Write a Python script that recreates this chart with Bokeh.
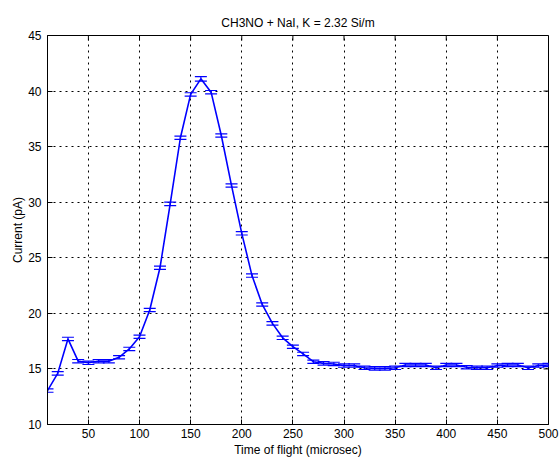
import math
from bokeh.plotting import figure
from bokeh.models import ColumnDataSource, Whisker, TeeHead, FixedTicker, Range1d, Title
from bokeh.embed import file_html
from bokeh.resources import INLINE

time_us = [10, 20, 30, 40, 50, 60, 70, 80, 90, 100,
           110, 120, 130, 140, 150, 160, 170, 180, 190, 200,
           210, 220, 230, 240, 250, 260, 270, 280, 290, 300,
           310, 320, 330, 340, 350, 360, 370, 380, 390, 400,
           410, 420, 430, 440, 450, 460, 470, 480, 490, 500]
current_pa = [13.05, 14.6, 17.7, 15.7, 15.55, 15.7, 15.7, 16.05, 16.8, 17.9,
              20.3, 24.1, 29.85, 35.8, 39.7, 41.1, 39.9, 36.0, 31.5, 27.2,
              23.4, 20.8, 19.1, 17.8, 17.0, 16.35, 15.65, 15.5, 15.45, 15.3,
              15.3, 15.1, 15.05, 15.05, 15.1, 15.35, 15.35, 15.35, 15.1, 15.35,
              15.35, 15.15, 15.1, 15.1, 15.3, 15.35, 15.35, 15.1, 15.3, 15.35]
error_pa = [0.15, 0.15, 0.15, 0.15, 0.15, 0.15, 0.15, 0.15, 0.15, 0.15,
            0.15, 0.15, 0.15, 0.15, 0.15, 0.2, 0.15, 0.15, 0.15, 0.15,
            0.15, 0.15, 0.15, 0.15, 0.15, 0.15, 0.15, 0.15, 0.15, 0.15,
            0.15, 0.15, 0.15, 0.15, 0.15, 0.15, 0.15, 0.15, 0.15, 0.15,
            0.15, 0.15, 0.15, 0.15, 0.15, 0.15, 0.15, 0.15, 0.15, 0.15]
x_ticks = [50, 100, 150, 200, 250, 300, 350, 400, 450, 500]
y_ticks = [10, 15, 20, 25, 30, 35, 40, 45]

X_MIN, X_MAX = 10, 500
Y_MIN, Y_MAX = 10, 45
FONT = "Liberation Sans"

src = ColumnDataSource(dict(
    x=time_us, y=current_pa,
    upper=[v + e for v, e in zip(current_pa, error_pa)],
    lower=[v - e for v, e in zip(current_pa, error_pa)],
))

p = figure(width=560, height=459, output_backend="svg", toolbar_location=None,
           x_range=Range1d(X_MIN, X_MAX), y_range=Range1d(Y_MIN, Y_MAX),
           min_border_left=47, min_border_right=12, min_border_top=35, min_border_bottom=33,
           x_axis_label="Time of flight (microsec)", y_axis_label="Current (pA)")

p.title = Title(text="CH3NO + NaI, K = 2.32 Si/m", align="center",
                text_font=FONT, text_font_size="12px", text_font_style="normal",
                text_color="black", standoff=11)

p.line("x", "y", source=src, line_color="#0000ff", line_width=1.6)
p.add_layout(Whisker(source=src, base="x", upper="upper", lower="lower",
                     line_color="#0000ff", line_width=1.2,
                     upper_head=TeeHead(size=12, line_color="#0000ff", line_width=1.2),
                     lower_head=TeeHead(size=12, line_color="#0000ff", line_width=1.2)))

p.xaxis.ticker = FixedTicker(ticks=x_ticks)
p.yaxis.ticker = FixedTicker(ticks=y_ticks)

for ax in p.xaxis + p.yaxis:
    ax.major_tick_in = 5
    ax.major_tick_out = 0
    ax.minor_tick_line_color = None
    ax.axis_line_color = "black"
    ax.major_tick_line_color = "black"
    ax.major_label_text_font = FONT
    ax.major_label_text_font_size = "12px"
    ax.major_label_text_color = "black"
    ax.axis_label_text_font = FONT
    ax.axis_label_text_font_size = "12px"
    ax.axis_label_text_font_style = "normal"
    ax.axis_label_text_color = "black"

p.xaxis.major_label_standoff = 4
p.xaxis.axis_label_standoff = 2
p.yaxis.major_label_standoff = 6
p.yaxis.axis_label_standoff = 0

# mirrored inward tick marks on the top and right edges (screen-length rays)
p.ray(x=x_ticks, y=[Y_MAX] * len(x_ticks), length=5, length_units="screen",
      angle=-math.pi / 2, line_color="black", line_width=1)
p.ray(x=[X_MAX] * len(y_ticks), y=y_ticks, length=5, length_units="screen",
      angle=math.pi, line_color="black", line_width=1)

for g in (p.xgrid[0], p.ygrid[0]):
    g.grid_line_color = "black"
    g.grid_line_dash = "2 4"
    g.grid_line_width = 1

p.outline_line_color = "black"
p.outline_line_width = 1
p.background_fill_color = "white"
p.border_fill_color = "white"

open("out.html", "w").write(file_html(p, INLINE))
